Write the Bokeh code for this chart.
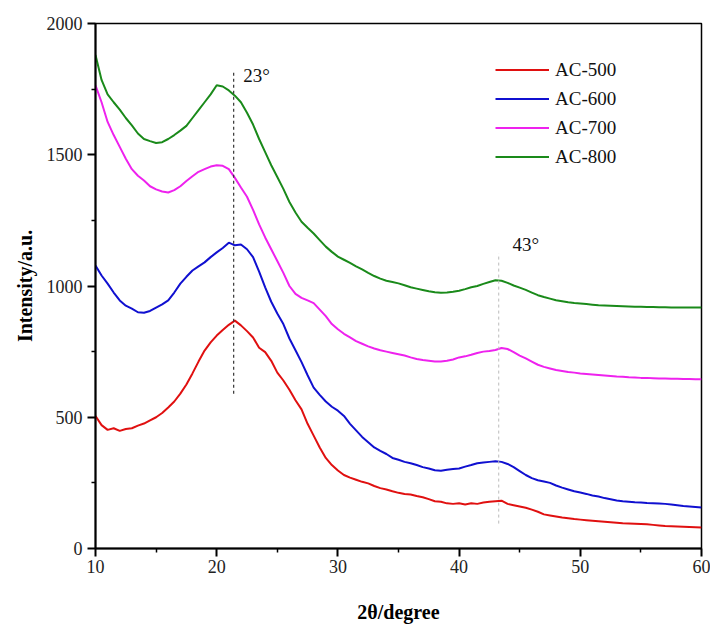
from bokeh.plotting import figure
from bokeh.models import FixedTicker, Range1d, Legend, LegendItem
from bokeh.core.properties import value
from bokeh.embed import file_html
from bokeh.resources import INLINE

two_theta = [10 + 0.5 * i for i in range(101)]

ac500 = [505, 470, 452, 458, 448, 455, 458, 468, 476, 488,
         500, 516, 537, 560, 590, 625, 667, 712, 754, 785,
         811, 832, 852, 868, 850, 828, 804, 765, 748, 715,
         670, 640, 605, 565, 530, 475, 430, 385, 345, 318,
         297, 280, 270, 262, 254, 248, 238, 230, 225, 218,
         212, 208, 206, 200, 195, 188, 180, 178, 172, 170,
         172, 168, 172, 170, 175, 178, 180, 182, 170, 165,
         160, 155, 148, 140, 130, 126, 122, 118, 115, 112,
         110, 108, 106, 104, 102, 100, 98, 96, 95, 94,
         93, 92, 90, 88, 86, 85, 84, 83, 82, 81, 80]

ac600 = [1078, 1040, 1009, 975, 945, 925, 914, 900, 898, 905,
         918, 930, 945, 975, 1009, 1035, 1059, 1075, 1090, 1110,
         1128, 1145, 1165, 1155, 1158, 1140, 1110, 1055, 995, 940,
         895, 855, 800, 755, 710, 660, 613, 585, 560, 540,
         525, 505, 475, 450, 425, 405, 385, 372, 360, 345,
         338, 330, 325, 318, 310, 305, 298, 296, 300, 303,
         305, 312, 318, 325, 328, 330, 332, 330, 322, 310,
         295, 280, 268, 260, 255, 250, 240, 232, 225, 218,
         213, 208, 202, 198, 192, 188, 183, 180, 178, 176,
         175, 173, 172, 171, 170, 168, 165, 162, 160, 158, 156]

ac700 = [1764, 1700, 1625, 1575, 1530, 1485, 1445, 1420, 1402, 1380,
         1368, 1360, 1356, 1365, 1380, 1400, 1418, 1435, 1445, 1455,
         1460, 1458, 1445, 1412, 1375, 1340, 1290, 1235, 1185, 1140,
         1095, 1050, 1000, 970, 955, 945, 935, 910, 885, 855,
         835, 818, 804, 790, 780, 770, 762, 755, 750, 745,
         740, 735, 728, 722, 718, 715, 712, 712, 715, 720,
         728, 732, 738, 745, 750, 752, 756, 764, 760, 748,
         735, 724, 712, 700, 692, 686, 680, 676, 672, 670,
         667, 665, 663, 661, 659, 657, 655, 654, 652, 651,
         650, 650, 649, 648, 648, 647, 647, 646, 646, 645, 645]

ac800 = [1880, 1785, 1730, 1700, 1672, 1640, 1612, 1581, 1560, 1552,
         1545, 1548, 1560, 1575, 1592, 1610, 1640, 1670, 1700, 1730,
         1765, 1760, 1745, 1725, 1700, 1660, 1615, 1560, 1510, 1460,
         1415, 1370, 1320, 1280, 1245, 1222, 1200, 1175, 1150, 1130,
         1112, 1100, 1088, 1075, 1063, 1050, 1038, 1028, 1020, 1015,
         1010, 1003, 995, 990, 985, 980, 976, 974, 975, 978,
         982, 988, 995, 1000, 1008, 1015, 1022, 1020, 1012, 1002,
         994, 985, 975, 965, 958, 952, 946, 942, 938, 935,
         933, 931, 929, 927, 926, 925, 924, 923, 922, 921,
         921, 920, 920, 919, 919, 918, 918, 918, 918, 918, 918]

series_names = ["AC-500", "AC-600", "AC-700", "AC-800"]
series_values = [ac500, ac600, ac700, ac800]
series_colors = ["#e01010", "#1010d0", "#ee22ee", "#1a8a1a"]

x_ticks = [10, 20, 30, 40, 50, 60]
x_minor = [15, 25, 35, 45, 55]
y_ticks = [0, 500, 1000, 1500, 2000]
y_minor = [250, 750, 1250, 1750]

peak_labels = ["23°", "43°"]
peak_x = [21.4, 43.27]
peak_y0 = [590, 95]
peak_y1 = [1821, 1124]
label_x = [22.2, 44.4]
label_y = [1802, 1158]

FONT = "Liberation Serif"

p = figure(width=710, height=628, output_backend="svg", toolbar_location=None,
           x_range=Range1d(10, 60), y_range=Range1d(0, 2000),
           min_border_left=95, min_border_right=9, min_border_top=23, min_border_bottom=80)
p.xgrid.visible = False
p.ygrid.visible = False
p.outline_line_color = "black"
p.outline_line_width = 1.5
p.background_fill_color = "white"
p.border_fill_color = "white"

renderers = []
for name, vals, col in zip(series_names, series_values, series_colors):
    r = p.line(two_theta, vals, line_color=col, line_width=2)
    renderers.append((name, r))

# peak marker lines
p.segment(x0=[peak_x[0]], y0=[peak_y0[0]], x1=[peak_x[0]], y1=[peak_y1[0]],
          line_color="#333333", line_dash="3 3", line_width=1.2)
p.segment(x0=[peak_x[1]], y0=[peak_y0[1]], x1=[peak_x[1]], y1=[peak_y1[1]],
          line_color="#bbbbbb", line_dash="3 3", line_width=1)
p.text(x=label_x, y=label_y, text=peak_labels, text_font=value(FONT),
       text_font_size="19px", text_color="#111111", text_baseline="middle", text_align="left")

for ax, maj, mino in ((p.xaxis[0], x_ticks, x_minor), (p.yaxis[0], y_ticks, y_minor)):
    ax.ticker = FixedTicker(ticks=maj, minor_ticks=mino)
    ax.axis_line_width = 2
    ax.axis_line_color = "black"
    ax.major_tick_line_width = 2
    ax.major_tick_line_color = "black"
    ax.minor_tick_line_width = 1.5
    ax.minor_tick_line_color = "black"
    ax.major_tick_out = 8
    ax.major_tick_in = 0
    ax.minor_tick_out = 4
    ax.minor_tick_in = 0
    ax.major_label_text_font = FONT
    ax.major_label_text_font_size = "18px"
    ax.major_label_text_color = "#222222"
    ax.axis_label_text_font = FONT
    ax.axis_label_text_font_style = "bold"
    ax.axis_label_text_font_size = "20px"
    ax.axis_label_text_color = "black"

p.xaxis.axis_label = "2θ/degree"
p.yaxis.axis_label = "Intensity/a.u."
p.xaxis.major_label_standoff = 3
p.yaxis.major_label_standoff = 5
p.xaxis.axis_label_standoff = 25
p.yaxis.axis_label_standoff = 8

legend = Legend(items=[LegendItem(label=n, renderers=[r]) for n, r in renderers],
                location=(400, 377), padding=0, margin=0, spacing=0,
                glyph_width=54, glyph_height=29, label_height=29, label_standoff=6,
                label_text_font=FONT, label_text_font_size="19px", label_text_color="#111111",
                border_line_color=None, background_fill_alpha=0)
p.add_layout(legend)

open("out.html", "w").write(file_html(p, INLINE))
